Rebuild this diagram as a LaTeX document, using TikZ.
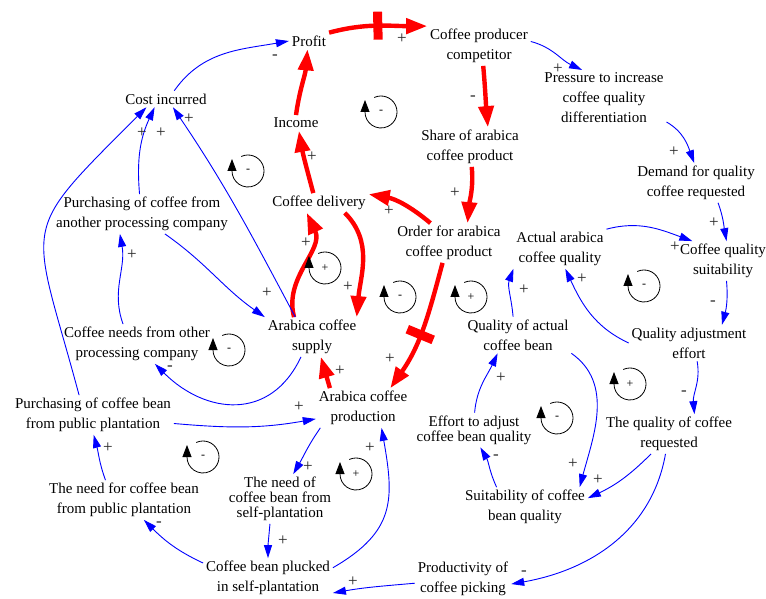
\documentclass[tikz,border=0pt]{standalone}
\usepackage{fontspec}
\setmainfont{Liberation Serif}
\usetikzlibrary{arrows.meta,decorations.markings,calc}
\begin{document}
\begin{tikzpicture}[x=1pt,y=1pt,
  txt/.style={align=center,font=\fontsize{15}{20}\selectfont,inner sep=1pt,outer sep=2pt},
  tighttxt/.style={txt,font=\fontsize{15}{15}\selectfont},
  sg/.style={font=\fontsize{17}{17}\selectfont,inner sep=0pt,text=black!85},
  bl/.style={draw=blue,line width=0.9pt,-{Triangle[length=13pt,width=8pt]}},
  rd/.style={draw=red,line width=4.4pt,-{Triangle[length=21pt,width=15pt]}},
  delaybar/.style={postaction={decorate,decoration={markings,mark=at position #1 with {\fill[red] (-4.5pt,-14pt) rectangle (4.5pt,14pt);}}}},
  loopar/.style={draw=black,line width=0.8pt,-{Triangle[length=12pt,width=9pt]}},
  fbloop/.pic={\draw[loopar] (115:16pt) arc[start angle=115,end angle=-180,radius=16pt] -- ++(0pt,12pt);
    \node[font=\fontsize{12}{12}\selectfont,inner sep=0pt] (-s) at (0,0) {#1};}
]
\fill[white] (0,0) rectangle (766,598);
\useasboundingbox (0,0) rectangle (766,598);

% variables
\node[txt] (P) at (309,557) {Profit};
\node[txt] (CPC) at (479,552) {Coffee producer\\competitor};
\node[txt] (PR) at (604,500) {Pressure to increase\\coffee quality\\differentiation};
\node[txt] (DQ) at (696,415) {Demand for quality\\coffee requested};
\node[txt] (CQS) at (723,337) {Coffee quality\\suitability};
\node[txt] (QAE) at (689,255) {Quality adjustment\\effort};
\node[txt] (TQR) at (669,164) {The quality of coffee\\requested};
\node[txt] (SCB) at (525,91) {Suitability of coffee\\bean quality};
\node[tighttxt] (EA) at (474,168) {Effort to adjust\\coffee bean quality};
\node[txt] (QACB) at (518,263) {Quality of actual\\coffee bean};
\node[txt] (AAQ) at (560,349) {Actual arabica\\coffee quality};
\node[txt] (OA) at (449,355) {Order for arabica\\coffee product};
\node[txt] (SA) at (470,451) {Share of arabica\\coffee product};
\node[txt] (CI) at (166,499) {Cost incurred};
\node[txt] (INC) at (296,475) {Income};
\node[txt] (CD) at (319,395) {Coffee delivery};
\node[txt] (PA) at (142,384) {Purchasing of coffee from\\another processing company};
\node[txt] (ACS) at (312,261) {Arabica coffee\\supply};
\node[txt] (CN) at (137,254) {Coffee needs from other\\processing company};
\node[txt] (ACP) at (363,190) {Arabica coffee\\production};
\node[txt] (PB) at (93,183) {Purchasing of coffee bean\\from public plantation};
\node[txt] (NPB) at (124,98) {The need for coffee bean\\from public plantation};
\node[tighttxt] (NS) at (280,99) {The need of\\coffee bean from\\self-plantation};
\node[txt] (CBP) at (268,20) {Coffee bean plucked\\in self-plantation};
\node[txt] (PCP) at (463,19) {Productivity of\\coffee picking};

% links
\draw[bl] (CI.45) to[out=55,in=190] (P.180);
\draw[rd] (INC.north) to[out=82,in=-95] (P.-100);
\draw[rd,delaybar=0.5] (P.north east) to[out=15,in=180] (CPC.north west);
\draw[bl] (CPC.5) to[out=-15,in=155] (PR.128);
\draw[bl] (PR.-21) to[out=-30,in=110] (DQ.95);
\draw[bl] (DQ.-42) to[out=-70,in=100] (CQS.80);
\draw[bl] (AAQ.north east) to[out=15,in=160] (CQS.147);
\draw[bl] (CQS.-80) to[out=-85,in=75] (QAE.29);
\draw[bl] (QAE.west) to[out=155,in=-65] (AAQ.-75);
\draw[bl] (QACB.105) to[out=95,in=-110] (AAQ.-157);
\draw[bl] (QAE.-66) to[out=-80,in=95] (TQR.38);
\draw[bl] (TQR.-132) to[out=-135,in=25] (SCB.8);
\draw[bl] (QACB.south east) to[out=-35,in=75] (SCB.20);
\draw[bl] (SCB.145) to[out=115,in=-60] (EA.-70);
\draw[bl] (EA.88) to[out=85,in=-115] (QACB.-138);
\draw[bl] (TQR.-100) to[out=-100,in=10] (PCP.-6);
\draw[bl] (PCP.185) to[out=185,in=10] (CBP.-13);
\draw[rd] (CPC.-78) to[out=-85,in=95] (SA.48);
\draw[rd] (SA.-85) to[out=-85,in=85] (OA.47);
\draw[rd] (OA.133) to[out=140,in=-10] (CD.10);
\draw[rd] (CD.120) to[out=105,in=-80] (INC.-70);
\draw[rd] (ACS.132) to[out=105,in=-65] (CD.-141);
\draw[rd] (CD.-21) to[out=-45,in=85] (ACS.24);
\draw[rd,delaybar=0.55] (OA.-108) to[out=-105,in=55] (ACP.36);
\draw[rd] (ACP.149) -- (ACS.-66);
\draw[bl] (PA.-41) to[out=-35,in=145] (ACS.north west);
\draw[bl] (ACS.130) to[out=118,in=-56] (CI.-50);
\draw[bl] (PA.97) to[out=95,in=-115] (CI.-144);
\draw[bl] (PB.125) to[out=105,in=-135,looseness=1.6] (CI.-157);
\draw[bl] (CN.125) to[out=110,in=-80] (PA.-138);
\draw[bl] (ACS.-119) to[out=-115,in=-45,looseness=1.25] (CN.-48);
\draw[bl] (PB.-6) to[out=-5,in=190] (ACP.-167);
\draw[bl] (NPB.133) to[out=110,in=-75] (PB.-88);
\draw[bl] (CBP.167) to[out=155,in=-45] (NPB.-45);
\draw[bl] (ACP.-155) to[out=-125,in=60] (NS.62);
\draw[bl] (NS.-112) to[out=-95,in=90] (CBP.north);
\draw[bl] (CBP.9) to[out=30,in=-80,looseness=1.25] (ACP.-47);

% polarities
\node[sg] (s1) at (275,541) {-};
\node[sg] (s2) at (402,559) {+};
\node[sg] (s3) at (558,529) {+};
\node[sg] (s4) at (473,500) {-};
\node[sg] (s5) at (674,446) {+};
\node[sg] (s6) at (455,405) {+};
\node[sg] (s7) at (389,387) {+};
\node[sg] (s8) at (714,375) {+};
\node[sg] (s9) at (675,351) {+};
\node[sg] (s10) at (713,295) {-};
\node[sg] (s11) at (582,319) {+};
\node[sg] (s12) at (524,308) {+};
\node[sg] (s13) at (684,205) {-};
\node[sg] (s14) at (598,118) {+};
\node[sg] (s15) at (573,134) {+};
\node[sg] (s16) at (496,141) {-};
\node[sg] (s17) at (501,220) {+};
\node[sg] (s18) at (524,25) {-};
\node[sg] (s19) at (353,16) {+};
\node[sg] (s20) at (312,441) {+};
\node[sg] (s21) at (306,355) {+};
\node[sg] (s22) at (348,311) {+};
\node[sg] (s23) at (390,239) {+};
\node[sg] (s24) at (340,227) {+};
\node[sg] (s25) at (267,305) {+};
\node[sg] (s26) at (189,479) {+};
\node[sg] (s27) at (161,465) {+};
\node[sg] (s28) at (142,465) {+};
\node[sg] (s29) at (132,343) {+};
\node[sg] (s30) at (170,230) {-};
\node[sg] (s31) at (299,191) {+};
\node[sg] (s32) at (108,150) {+};
\node[sg] (s33) at (159,74) {-};
\node[sg] (s34) at (308,131) {+};
\node[sg] (s35) at (283,57) {+};
\node[sg] (s36) at (370,150) {+};

% loop markers
\pic (L1) at (248,427) {fbloop=-};
\pic (L2) at (381,486) {fbloop=-};
\pic (L3) at (325,330) {fbloop=+};
\pic (L4) at (229,248) {fbloop=-};
\pic (L5) at (400,301) {fbloop=-};
\pic (L6) at (471,301) {fbloop=+};
\pic (L7) at (644,312) {fbloop=-};
\pic (L8) at (630,214) {fbloop=+};
\pic (L9) at (557,180) {fbloop=-};
\pic (L10) at (203,141) {fbloop=-};
\pic (L11) at (356,124) {fbloop=+};
\end{tikzpicture}
\end{document}
